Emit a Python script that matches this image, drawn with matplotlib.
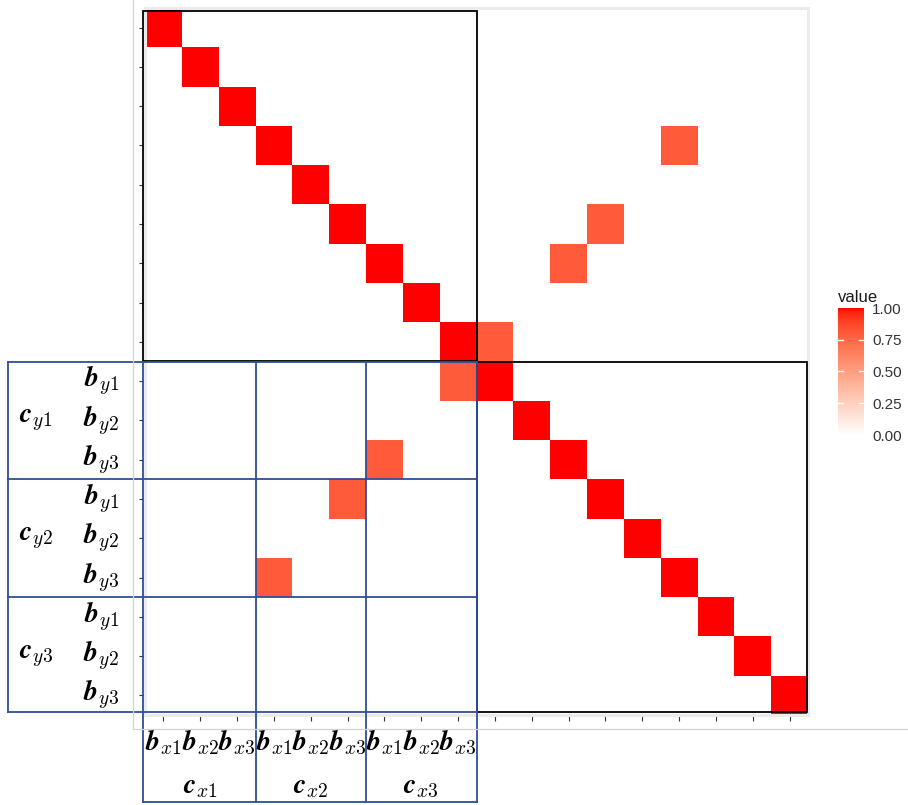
import numpy as np
import matplotlib
matplotlib.use("Agg")
import matplotlib.pyplot as plt
from matplotlib.colors import ListedColormap
from matplotlib.lines import Line2D
from matplotlib.patches import Rectangle

# ---------------- data ----------------
n_cells = 18
diag_value = 1.0
offdiag_rows = [4, 6, 7, 9, 10, 12, 13, 15]
offdiag_cols = [15, 13, 12, 10, 9, 7, 6, 4]
offdiag_values = [0.8, 0.8, 0.8, 0.8, 0.8, 0.8, 0.8, 0.8]
row_labels = [r"$\mathbfit{b}_{y1}$", r"$\mathbfit{b}_{y2}$", r"$\mathbfit{b}_{y3}$"]
col_labels = [r"$\mathbfit{b}_{x1}$", r"$\mathbfit{b}_{x2}$", r"$\mathbfit{b}_{x3}$"]
row_group_labels = [r"$\mathbfit{c}_{y1}$", r"$\mathbfit{c}_{y2}$", r"$\mathbfit{c}_{y3}$"]
col_group_labels = [r"$\mathbfit{c}_{x1}$", r"$\mathbfit{c}_{x2}$", r"$\mathbfit{c}_{x3}$"]
cbar_ticks = [0.00, 0.25, 0.50, 0.75, 1.00]

plt.rcParams["mathtext.fontset"] = "cm"

# ---------------- white -> red gradient in Lab (ggplot style) ----------------
def lab_to_srgb(L, a, b):
    fy = (L + 16) / 116
    fx = fy + a / 500
    fz = fy - b / 200
    def finv(t):
        return np.where(t > 6 / 29, t ** 3, 3 * (6 / 29) ** 2 * (t - 4 / 29))
    X = 0.95047 * finv(fx)
    Y = 1.0 * finv(fy)
    Z = 1.08883 * finv(fz)
    r = 3.2406 * X - 1.5372 * Y - 0.4986 * Z
    g = -0.9689 * X + 1.8758 * Y + 0.0415 * Z
    bb = 0.0557 * X - 0.2040 * Y + 1.0570 * Z
    rgb = np.stack([r, g, bb], axis=-1)
    rgb = np.clip(rgb, 0, 1)
    rgb = np.where(rgb <= 0.0031308, 12.92 * rgb, 1.055 * rgb ** (1 / 2.4) - 0.055)
    return np.clip(rgb, 0, 1)

t = np.linspace(0, 1, 256)
L = 100 + (53.24 - 100) * t
A = 0 + 80.09 * t
B = 0 + 67.20 * t
cmap = ListedColormap(lab_to_srgb(L, A, B))

# ---------------- matrix ----------------
mat = np.full((n_cells, n_cells), np.nan)
for i in range(n_cells):
    mat[i, i] = diag_value
for r, c, v in zip(offdiag_rows, offdiag_cols, offdiag_values):
    mat[r - 1, c - 1] = v

W, H = 908, 805
fig = plt.figure(figsize=(W / 100, H / 100), dpi=100)

def fx(px):
    return px / W

def fy(py):
    return 1 - py / H

ax = fig.add_axes([fx(145), fy(715), fx(808) - fx(145), fy(8) - fy(715)])
edges = np.arange(n_cells + 1) + 0.5
mesh = ax.pcolormesh(edges, edges, np.ma.masked_invalid(mat), cmap=cmap, vmin=0, vmax=1)
ax.set_xlim(0.5, n_cells + 0.5)
ax.set_ylim(n_cells + 0.5, 0.5)
ax.set_xticks(np.arange(1, n_cells + 1))
ax.set_yticks(np.arange(1, n_cells + 1))
ax.set_xticklabels([])
ax.set_yticklabels([])
ax.tick_params(length=4, width=0.8, color="#333333", pad=2)
for s in ax.spines.values():
    s.set_color("#EBEBEB")
    s.set_linewidth(2.2)

# black block rectangles
ax.add_patch(Rectangle((0.45, 0.57), 9.05, 8.93, fill=False, edgecolor="black",
                       linewidth=1.3, clip_on=False, zorder=5))
ax.add_patch(Rectangle((9.5, 9.5), 8.97, 8.93, fill=False, edgecolor="black",
                       linewidth=1.3, clip_on=False, zorder=5))

# blue grid
blue = "#2E4E96"
x_left = -3.22
y_bottom = 20.71
y_low = 18.43
for yv in [9.5, 12.5, 15.5, y_low]:
    ax.add_line(Line2D([x_left, 9.5], [yv, yv], color=blue, lw=1.3, clip_on=False, zorder=6))
ax.add_line(Line2D([x_left, x_left], [9.5, y_low], color=blue, lw=1.3, clip_on=False, zorder=6))
for xv in [0.45, 3.5, 6.5, 9.5]:
    ax.add_line(Line2D([xv, xv], [9.5, y_bottom], color=blue, lw=1.3, clip_on=False, zorder=6))
ax.add_line(Line2D([0.45, 9.5], [y_bottom, y_bottom], color=blue, lw=1.3, clip_on=False, zorder=6))

# labels
fs = 20
for g in range(3):
    for k in range(3):
        row = 10 + 3 * g + k
        ax.text(-0.2, row, row_labels[k], ha="right", va="center", fontsize=fs, clip_on=False)
        col = 1 + 3 * g + k
        ax.text(col, 19.2, col_labels[k], ha="center", va="center", fontsize=fs, clip_on=False)
    ax.text(-2.46, 11 + 3 * g, row_group_labels[g], ha="center", va="center", fontsize=fs, clip_on=False)
    ax.text(2 + 3 * g, 20.3, col_group_labels[g], ha="center", va="center", fontsize=fs, clip_on=False)

# screenshot frame lines
fig.add_artist(Line2D([fx(133), fx(133)], [fy(0), fy(729)], color="#D3D3D3", lw=0.9))
fig.add_artist(Line2D([fx(133), fx(908)], [fy(729), fy(729)], color="#D3D3D3", lw=0.9))

# colorbar
cax = fig.add_axes([fx(838), fy(435), fx(864) - fx(838), fy(308) - fy(435)])
cb = fig.colorbar(mesh, cax=cax, ticks=cbar_ticks)
cb.outline.set_visible(False)
cb.ax.set_yticklabels([f"{v:.2f}" for v in cbar_ticks])
cb.ax.tick_params(length=0, labelsize=11, labelcolor="#333333", pad=6)
for lab in cb.ax.get_yticklabels():
    lab.set_fontfamily("Liberation Sans")
for v in cbar_ticks[1:-1]:
    cax.plot([0, 0.2], [v, v], color="white", lw=1, transform=cax.get_yaxis_transform())
    cax.plot([0.8, 1.0], [v, v], color="white", lw=1, transform=cax.get_yaxis_transform())
fig.text(fx(838), fy(297), "value", fontsize=12, ha="left", va="center", color="#1A1A1A",
         family="Liberation Sans")

fig.savefig("out.png", dpi=100)
